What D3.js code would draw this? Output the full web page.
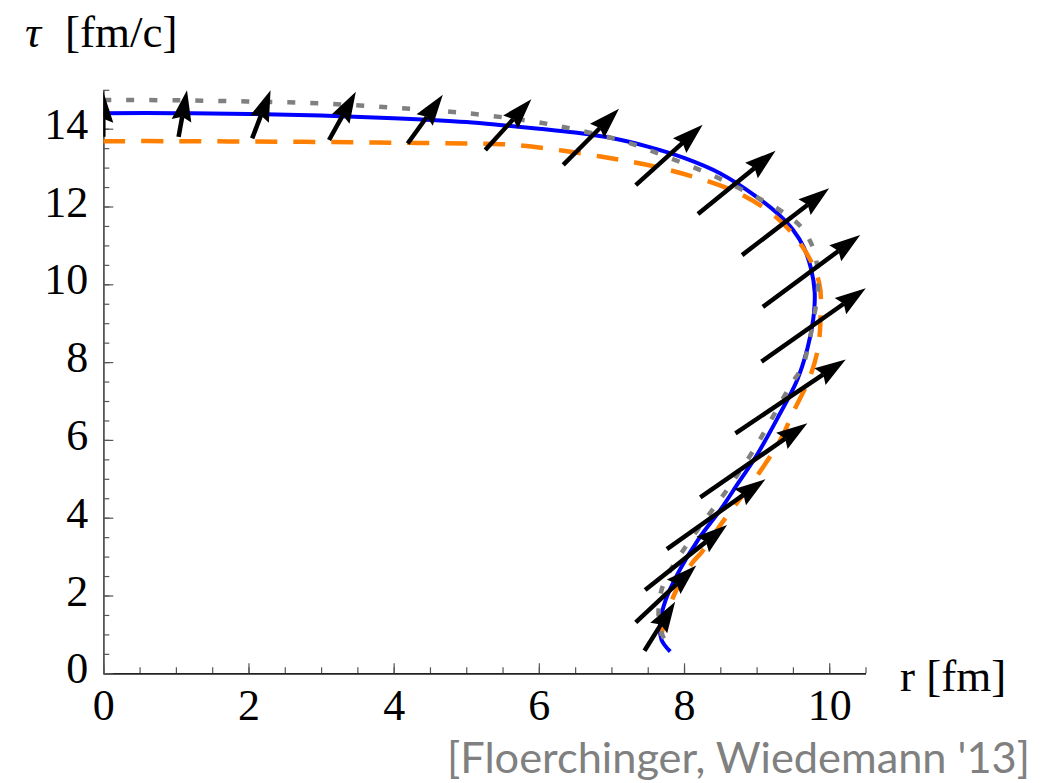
<!DOCTYPE html>
<html><head><meta charset="utf-8">
<script src="https://cdn.jsdelivr.net/npm/d3@7"></script>
<style>body{margin:0;background:#fff;} svg{display:block;}</style>
</head><body>
<svg id="c" width="1058" height="783"></svg>
<script>
// ---- data ----
const xTickValues = [0, 2, 4, 6, 8, 10];
const yTickValues = [0, 2, 4, 6, 8, 10, 12, 14];

// blue solid curve
const blueR   = [0, 1, 2, 3, 4, 5, 5.5, 6, 6.5, 7, 7.5, 8, 8.5, 9, 9.3, 9.5, 9.65, 9.75, 9.8, 9.78, 9.7, 9.55, 9.3, 9.0, 8.75, 8.5, 8.2, 7.93, 7.75, 7.67, 7.69, 7.81];
const blueTau = [14.40, 14.40, 14.38, 14.34, 14.27, 14.17, 14.09, 14.0, 13.9, 13.76, 13.54, 13.25, 12.85, 12.25, 11.8, 11.4, 10.95, 10.4, 9.8, 9.1, 8.35, 7.5, 6.6, 5.6, 4.9, 4.2, 3.45, 2.62, 1.9, 1.3, 0.86, 0.56];

// gray dotted curve
const grayR   = [0, 1, 2, 3, 4, 5, 5.94, 6.5, 7.18, 7.8, 8.43, 9.03, 9.35, 9.61, 9.77, 9.84, 9.84, 9.79, 9.72, 9.63, 9.47, 9.12, 8.96, 8.59, 8.41, 8.02, 7.72, 7.65, 7.68, 7.81];
const grayTau = [14.74, 14.73, 14.70, 14.65, 14.54, 14.40, 14.18, 13.98, 13.67, 13.25, 12.77, 12.21, 11.87, 11.48, 10.97, 10.37, 9.73, 9.17, 8.48, 7.88, 7.41, 6.25, 5.74, 4.71, 4.25, 3.25, 2.31, 1.67, 1.1, 0.58];

// orange dashed curve
const orangeR   = [0, 1, 2, 3, 4, 5, 5.67, 6.87, 7.79, 8.71, 9.26, 9.63, 9.86, 9.88, 9.84, 9.72, 9.5, 9.35, 9.03, 8.52, 8.25, 8.11, 7.86, 7.69, 7.72];
const orangeTau = [13.68, 13.68, 13.67, 13.66, 13.64, 13.62, 13.58, 13.28, 12.94, 12.38, 11.74, 10.97, 10.05, 9.1, 8.3, 7.55, 6.7, 6.08, 5.14, 3.86, 3.13, 2.83, 2.0, 0.94, 0.66];

// flow arrows: tail (r0,tau0) -> tip (r1,tau1)
const arrowR0   = [0, 1.037, 2.051, 3.110, 4.193, 5.262, 6.336, 7.335, 8.192, 8.800, 9.086, 9.067, 8.708, 8.224, 7.764, 7.464, 7.335, 7.455];
const arrowTau0 = [13.79, 13.79, 13.75, 13.71, 13.62, 13.45, 13.07, 12.55, 11.81, 10.75, 9.42, 8.01, 6.17, 4.52, 3.19, 2.14, 1.31, 0.58];
const arrowR1   = [0, 1.153, 2.304, 3.479, 4.677, 5.897, 7.104, 8.257, 9.261, 9.999, 10.427, 10.504, 10.228, 9.699, 9.122, 8.593, 8.169, 7.878];
const arrowTau1 = [14.95, 14.99, 14.99, 14.95, 14.87, 14.76, 14.51, 14.10, 13.43, 12.47, 11.27, 9.90, 8.07, 6.43, 4.99, 3.81, 2.77, 1.84];

// ---- chart ----
const svg = d3.select("#c");
const x = d3.scaleLinear().domain([0, 10.5]).range([103.3, 865.5]);
const y = d3.scaleLinear().domain([0, 15]).range([673.3, 89.8]);

svg.append("defs").append("clipPath").attr("id", "plotclip")
  .append("rect").attr("x", x(0)).attr("y", 0).attr("width", 1058 - x(0)).attr("height", y(0));

// axes - minor ticks
const minorX = d3.range(0, 10.51, 0.5);
const minorY = d3.range(0, 15.01, 0.5);
const gx = svg.append("g").attr("transform", `translate(0,${y(0)})`);
gx.call(d3.axisBottom(x).tickValues(minorX).tickSize(-6).tickSizeOuter(0).tickFormat(""));
gx.append("g").call(d3.axisBottom(x).tickValues(xTickValues).tickSize(-10).tickSizeOuter(0).tickPadding(15.5).tickFormat(d3.format("d")));
gx.selectAll("path.domain").attr("stroke", "#222").attr("stroke-width", 1.5);
gx.selectAll("line").attr("stroke", "#555").attr("stroke-width", 1.2);
gx.selectAll("text").attr("font-family", "'Liberation Serif', 'Times New Roman', serif")
  .attr("font-size", 44).attr("fill", "#000");

const gy = svg.append("g").attr("transform", `translate(${x(0)},0)`);
gy.call(d3.axisLeft(y).tickValues(minorY).tickSize(-6).tickSizeOuter(0).tickFormat(""));
gy.append("g").call(d3.axisLeft(y).tickValues(yTickValues).tickSize(-10).tickSizeOuter(0).tickPadding(15).tickFormat(d3.format("d")));
gy.selectAll("path.domain").attr("stroke", "#555").attr("stroke-width", 1.5);
gy.selectAll("line").attr("stroke", "#555").attr("stroke-width", 1.2);
gy.selectAll("text").attr("font-family", "'Liberation Serif', 'Times New Roman', serif")
  .attr("font-size", 44).attr("fill", "#000").attr("dy", "0.22em");

// curves
const plot = svg.append("g").attr("clip-path", "url(#plotclip)");
const line = d3.line().x(d => x(d[0])).y(d => y(d[1])).curve(d3.curveCatmullRom.alpha(0.5));
const zip = (a, b) => a.map((v, i) => [v, b[i]]);

plot.append("path").attr("d", line(zip(blueR, blueTau)))
  .attr("fill", "none").attr("stroke", "#0000ff").attr("stroke-width", 4);
plot.append("path").attr("d", line(zip(orangeR, orangeTau)))
  .attr("fill", "none").attr("stroke", "#ff8000").attr("stroke-width", 4.5)
  .attr("stroke-dasharray", "22,16");
plot.append("path").attr("d", line(zip(grayR, grayTau)))
  .attr("fill", "none").attr("stroke", "#808080").attr("stroke-width", 4.5)
  .attr("stroke-dasharray", "8,15");

// arrows
const HL = 31, HW = 10, NOTCH = 4;
arrowR0.forEach((r0, i) => {
  const x0 = x(r0), y0 = y(arrowTau0[i]), x1 = x(arrowR1[i]), y1 = y(arrowTau1[i]);
  const dx = x1 - x0, dy = y1 - y0, len = Math.hypot(dx, dy);
  const ux = dx / len, uy = dy / len, px = -uy, py = ux;
  const bx = x1 - ux * HL, by = y1 - uy * HL;
  const nx = x1 - ux * (HL - NOTCH), ny = y1 - uy * (HL - NOTCH);
  plot.append("line").attr("x1", x0).attr("y1", y0).attr("x2", nx).attr("y2", ny)
    .attr("stroke", "#000").attr("stroke-width", 4.5);
  plot.append("path")
    .attr("d", `M${x1},${y1}L${bx + px * HW},${by + py * HW}L${nx},${ny}L${bx - px * HW},${by - py * HW}Z`)
    .attr("fill", "#000");
});

// labels
const tl = svg.append("text").attr("x", 25).attr("y", 47)
  .attr("font-family", "'Liberation Serif', 'Times New Roman', serif").attr("font-size", 45).attr("fill", "#000");
tl.append("tspan").attr("font-style", "italic").text("τ");
tl.append("tspan").attr("x", 65).text("[fm/c]");

svg.append("text").attr("x", 900).attr("y", 691)
  .attr("font-family", "'Liberation Serif', 'Times New Roman', serif").attr("font-size", 45).attr("fill", "#000")
  .text("r [fm]");

svg.append("text").attr("x", 447).attr("y", 773)
  .attr("font-family", "Lato, 'Open Sans', sans-serif").attr("font-size", 42).attr("fill", "#808080")
  .attr("textLength", 583).attr("lengthAdjust", "spacingAndGlyphs")
  .text("[Floerchinger, Wiedemann '13]");
</script>
</body></html>
